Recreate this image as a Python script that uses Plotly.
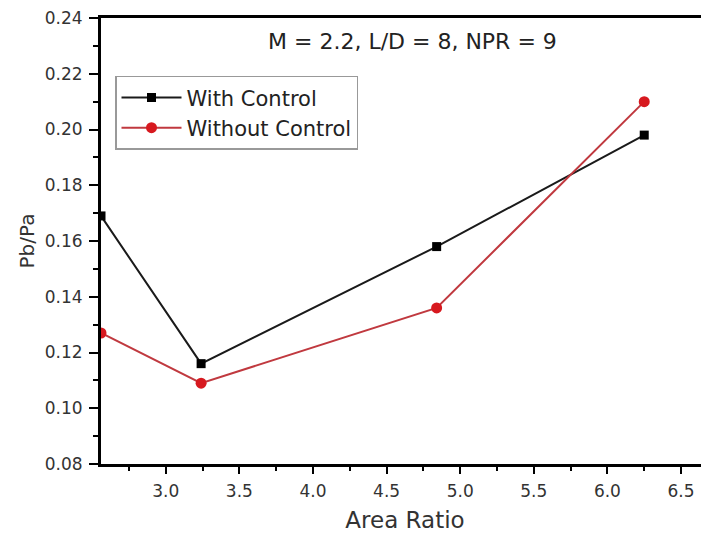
import plotly.graph_objects as go

area_ratio = [2.56, 3.24, 4.84, 6.25]
with_control = [0.169, 0.116, 0.158, 0.198]
without_control = [0.127, 0.109, 0.136, 0.210]

FONT = "DejaVu Sans, Arial, sans-serif"
TXT = "#333333"

# page body has an 8px margin; compensate so the plot sits where the reference has it
W, H = 701, 527
L, T, B = 93, 8, 71
PLOT_W = W - L
PLOT_H = H - T - B

fig = go.Figure()
fig.add_trace(go.Scatter(
    x=area_ratio, y=with_control, mode="lines+markers", name="With Control",
    line=dict(color="#1a1a1a", width=2),
    marker=dict(symbol="square", size=9, color="#000000"),
))
fig.add_trace(go.Scatter(
    x=area_ratio, y=without_control, mode="lines+markers", name="Without Control",
    line=dict(color="#c0393f", width=2),
    marker=dict(symbol="circle", size=11, color="#d7191f"),
))

fig.update_layout(
    width=W, height=H,
    margin=dict(l=L, r=0, t=T, b=B, pad=0),
    paper_bgcolor="white", plot_bgcolor="white",
    font=dict(family=FONT, color=TXT, size=17),
    showlegend=True,
    legend=dict(
        x=(115 - 101) / PLOT_W, y=(464 - 74) / PLOT_H, xanchor="left", yanchor="top",
        bordercolor="#999999", borderwidth=1.5, bgcolor="white",
        font=dict(size=21, color="#222222"),
        itemwidth=60, tracegroupgap=0,
    ),
    annotations=[dict(
        text="M = 2.2, L/D = 8, NPR = 9", xref="paper", yref="paper",
        x=(412 - 101) / PLOT_W, y=(464 - 40) / PLOT_H, xanchor="center", yanchor="middle",
        showarrow=False, font=dict(size=22, color="#222222"),
    )],
)
fig.update_xaxes(
    range=[2.56, 6.69], tick0=2.5, dtick=0.5, tickformat=".1f",
    showline=True, linecolor="black", linewidth=3, mirror=True,
    ticks="outside", ticklen=7, tickwidth=2, tickcolor="black",
    minor=dict(ticks="outside", dtick=0.25, tick0=2.5, ticklen=4, tickwidth=2, tickcolor="black"),
    showgrid=False, zeroline=False, ticklabelstandoff=3,
    title=dict(text="Area Ratio", font=dict(size=23), standoff=12),
)
fig.update_yaxes(
    range=[0.08, 0.24001], dtick=0.02, tick0=0.08, tickformat=".2f",
    showline=True, linecolor="black", linewidth=3, mirror=False,
    ticks="outside", ticklen=9, tickwidth=2, tickcolor="black",
    minor=dict(ticks="outside", dtick=0.01, ticklen=5, tickwidth=2, tickcolor="black"),
    showgrid=False, zeroline=False, ticklabelstandoff=3, ticklabeloverflow="allow",
    title=dict(text="Pb/Pa", font=dict(size=20), standoff=5),
)

fig.write_html("out.html")
